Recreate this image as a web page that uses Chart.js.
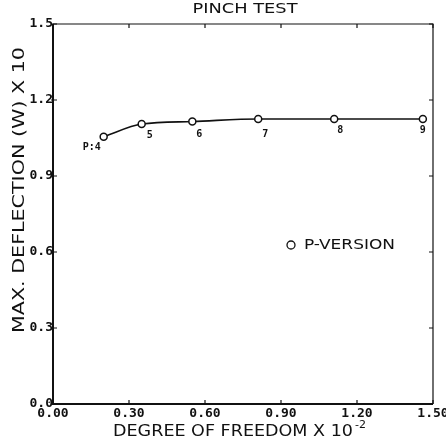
<!DOCTYPE html>
<html>
<head>
<meta charset="utf-8">
<script src="https://cdn.jsdelivr.net/npm/chart.js@4/dist/chart.umd.min.js"></script>
<style>
  html, body { margin: 0; padding: 0; background: #fff; }
  #wrap { width: 446px; height: 447px; }
</style>
</head>
<body>
<div id="wrap"><canvas id="c" width="446" height="447"></canvas></div>
<script>
// Pinch test: maximum deflection against degrees of freedom, p-version
const dof = [0.20, 0.35, 0.55, 0.81, 1.11, 1.46];        // degree of freedom x 10^-2
const deflection = [1.055, 1.105, 1.115, 1.125, 1.125, 1.125]; // max. deflection (W) x 10
const pointLabels = ['P:4', '5', '6', '7', '8', '9'];
const xTicks = [0.00, 0.30, 0.60, 0.90, 1.20, 1.50];
const yTicks = [0.0, 0.3, 0.6, 0.9, 1.2, 1.5];

const chartTitle = 'PINCH TEST';
const xTitle = 'DEGREE OF FREEDOM X 10';
const xTitleExp = '-2';
const yTitle = 'MAX. DEFLECTION (W) X 10';
const legendText = 'P-VERSION';

const INK = '#111';
const TITLE_FONT = '"DejaVu Sans", sans-serif';
const TICK_FONT = { family: '"DejaVu Sans Mono", monospace', size: 13, weight: 'bold' };

// label offsets from each point (pixels)
const labelOffsets = [[-12, 11], [8, 11], [7, 13], [7, 15], [6, 11], [0, 11]];

function stretchedText(ctx, text, x, y, width, align) {
  // draw text scaled horizontally to a given width
  const natural = ctx.measureText(text).width;
  const k = width / natural;
  ctx.save();
  ctx.translate(align === 'center' ? x - width / 2 : x, y);
  ctx.scale(k, 1);
  ctx.textAlign = 'left';
  ctx.fillText(text, 0, 0);
  ctx.restore();
}

const framePlugin = {
  id: 'frame',
  afterDatasetsDraw(chart) {
    const { ctx, chartArea: a, scales: { x, y } } = chart;
    ctx.save();
    ctx.strokeStyle = INK;
    // frame: heavier left and bottom axes, lighter top and right
    ctx.lineWidth = 1.2;
    ctx.beginPath();
    ctx.moveTo(a.left, a.top); ctx.lineTo(a.right, a.top); ctx.lineTo(a.right, a.bottom);
    ctx.stroke();
    ctx.lineWidth = 2;
    ctx.beginPath();
    ctx.moveTo(a.left, a.top); ctx.lineTo(a.left, a.bottom); ctx.lineTo(a.right, a.bottom);
    ctx.stroke();

    ctx.lineWidth = 1.2;
    const t = 4;
    ctx.beginPath();
    x.ticks.forEach(tk => {
      const px = x.getPixelForValue(tk.value);
      ctx.moveTo(px, a.bottom); ctx.lineTo(px, a.bottom - t);
      ctx.moveTo(px, a.top); ctx.lineTo(px, a.top + t);
    });
    y.ticks.forEach(tk => {
      const py = y.getPixelForValue(tk.value);
      ctx.moveTo(a.left - 2, py); ctx.lineTo(a.left + t, py);
      ctx.moveTo(a.right, py); ctx.lineTo(a.right - t, py);
    });
    ctx.stroke();

    // point labels
    const meta = chart.getDatasetMeta(0);
    ctx.fillStyle = INK;
    ctx.font = 'bold 10px "DejaVu Sans Mono", monospace';
    ctx.textAlign = 'center';
    ctx.textBaseline = 'middle';
    meta.data.forEach((el, i) => {
      const o = labelOffsets[i];
      ctx.fillText(pointLabels[i], el.x + o[0], el.y + o[1]);
    });

    // legend
    ctx.lineWidth = 1.3;
    ctx.beginPath();
    ctx.arc(291, 245, 4, 0, Math.PI * 2);
    ctx.fillStyle = '#fff';
    ctx.fill();
    ctx.stroke();
    ctx.fillStyle = INK;
    ctx.font = '14px ' + TITLE_FONT;
    ctx.textBaseline = 'middle';
    stretchedText(ctx, legendText, 304, 245, 91, 'left');

    // titles
    ctx.font = '14px ' + TITLE_FONT;
    stretchedText(ctx, chartTitle, 245, 9, 105, 'center');

    ctx.font = '15px ' + TITLE_FONT;
    stretchedText(ctx, xTitle, 113, 432, 240, 'left');
    ctx.font = '11px ' + TITLE_FONT;
    ctx.textAlign = 'left';
    ctx.fillText(xTitleExp, 355, 425);

    ctx.save();
    ctx.translate(20, 190);
    ctx.rotate(-Math.PI / 2);
    ctx.font = '15px ' + TITLE_FONT;
    stretchedText(ctx, yTitle, 0, 0, 286, 'center');
    ctx.restore();
    ctx.restore();
  }
};

new Chart(document.getElementById('c'), {
  type: 'line',
  data: {
    datasets: [{
      label: legendText,
      data: dof.map((v, i) => ({ x: v, y: deflection[i] })),
      borderColor: INK,
      borderWidth: 1.6,
      pointRadius: 3.5,
      pointBorderWidth: 1.5,
      pointBackgroundColor: '#fff',
      pointBorderColor: INK,
      cubicInterpolationMode: 'monotone',
      fill: false
    }]
  },
  options: {
    responsive: false,
    animation: false,
    layout: { padding: { left: 0, right: 13, top: 24, bottom: 0 } },
    plugins: { legend: { display: false }, title: { display: false }, tooltip: { enabled: false } },
    scales: {
      x: {
        type: 'linear', min: 0, max: 1.5,
        afterBuildTicks: s => { s.ticks = xTicks.map(v => ({ value: v })); },
        afterFit: s => { s.height = 43; s.paddingLeft = 0; s.paddingRight = 0; },
        grid: { display: false, drawTicks: false },
        border: { display: false },
        ticks: { color: INK, font: TICK_FONT, padding: 2, maxRotation: 0, autoSkip: false,
                 callback: v => v.toFixed(2) }
      },
      y: {
        type: 'linear', min: 0, max: 1.5,
        afterBuildTicks: s => { s.ticks = yTicks.map(v => ({ value: v })); },
        afterFit: s => { s.width = 53; s.paddingTop = 0; s.paddingBottom = 0; },
        grid: { display: false, drawTicks: false },
        border: { display: false },
        ticks: { color: INK, font: TICK_FONT, padding: 0, autoSkip: false,
                 callback: v => v.toFixed(1) }
      }
    }
  },
  plugins: [framePlugin]
});
</script>
</body>
</html>
